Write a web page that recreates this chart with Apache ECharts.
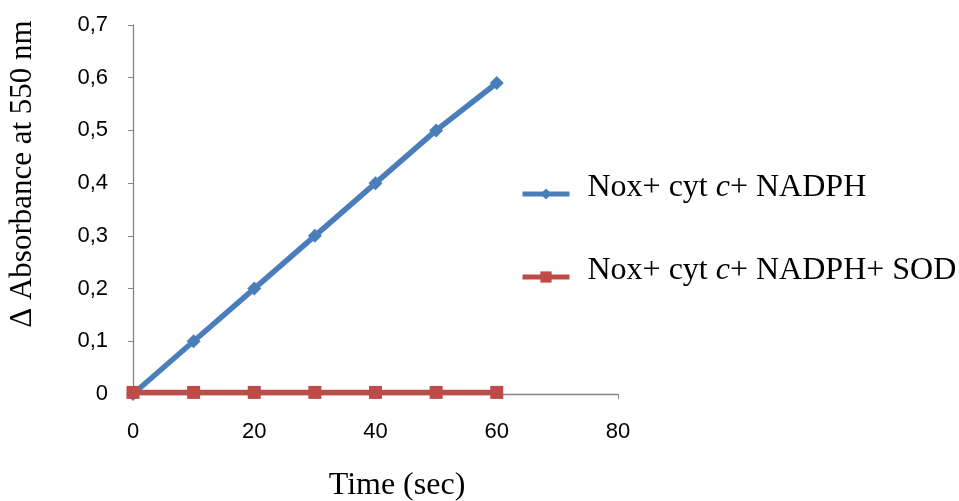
<!DOCTYPE html>
<html><head><meta charset="utf-8">
<script src="https://cdn.jsdelivr.net/npm/echarts@6/dist/echarts.min.js"></script>
<style>html,body{margin:0;padding:0;background:#fff}#c{width:959px;height:501px}</style>
</head><body><div id="c"></div>
<script>
const timeSec = [0, 10, 20, 30, 40, 50, 60];
const noNox = [0, 0.1, 0.2, 0.3, 0.4, 0.5, 0.59];
const withSod = [0.003, 0.003, 0.003, 0.003, 0.003, 0.003, 0.003];
const seriesNames = ['Nox+ cyt c+ NADPH', 'Nox+ cyt c+ NADPH+ SOD'];
const xTitle = 'Time (sec)';
const yTitle = '\u0394 Absorbance at 550 nm';

const chart = echarts.init(document.getElementById('c'));
const pairs = a => timeSec.map((t, i) => [t, a[i]]);
const serif = 'Liberation Serif';
chart.setOption({
  animation: false,
  grid: {left: 133, right: 341, top: 25, bottom: 107, containLabel: false},
  xAxis: {
    type: 'value', min: 0, max: 80, interval: 20,
    axisLine: {lineStyle: {color: '#868686', width: 1.3}},
    axisTick: {show: true, inside: false, length: 5, lineStyle: {color: '#868686'}},
    splitLine: {show: false},
    axisLabel: {fontFamily: 'Liberation Sans', fontSize: 22, color: '#000', margin: 27}
  },
  yAxis: {
    type: 'value', min: 0, max: 0.7, interval: 0.1,
    axisLine: {show: true, lineStyle: {color: '#868686', width: 1.3}},
    axisTick: {show: true, inside: false, length: 5, lineStyle: {color: '#868686'}},
    splitLine: {show: false},
    axisLabel: {fontFamily: 'Liberation Sans', fontSize: 22, color: '#000', margin: 25,
      formatter: v => String(Math.round(v * 10) / 10).replace('.', ',')}
  },
  graphic: [
    {type: 'text', x: 397, y: 486, style: {text: xTitle, font: '32px "Liberation Serif"', fill: '#000', textAlign: 'center', textVerticalAlign: 'middle'}},
    {type: 'text', x: 23, y: 174, rotation: Math.PI / 2, style: {text: yTitle, font: '31px "Liberation Serif"', fill: '#000', textAlign: 'center', textVerticalAlign: 'middle'}}
  ],
  legend: {
    orient: 'vertical', left: 515, top: 167, itemGap: 51,
    itemWidth: 47, itemHeight: 14,
    lineStyle: {width: 5},
    formatter: name => {
      const parts = name.split(' c+');
      return '{a|' + parts[0] + ' }{i|c}{a|+' + parts[1] + '}';
    },
    textStyle: {
      color: '#000', padding: [0, 0, 12, 13],
      rich: {
        a: {fontFamily: serif, fontSize: 32, color: '#000'},
        i: {fontFamily: serif, fontSize: 32, fontStyle: 'italic', color: '#000'}
      }
    },
    data: seriesNames
  },
  series: [
    {name: seriesNames[0], type: 'line', data: pairs(noNox), symbol: 'diamond', symbolSize: 14,
     lineStyle: {width: 5.5, color: '#4a7ebb'}, itemStyle: {color: '#4a7ebb'}, z: 3},
    {name: seriesNames[1], type: 'line', data: pairs(withSod), symbol: 'rect', symbolSize: 13,
     lineStyle: {width: 5.5, color: '#be4b48'}, itemStyle: {color: '#be4b48'}, z: 4}
  ]
});
</script></body></html>
